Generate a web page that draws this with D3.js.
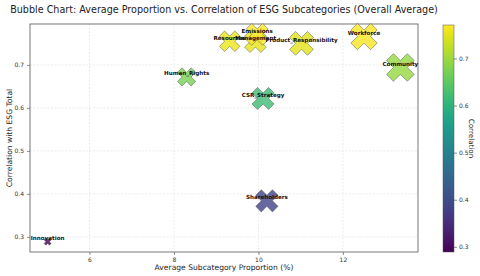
<!DOCTYPE html>
<html>
<head>
<meta charset="utf-8">
<script src="https://cdn.jsdelivr.net/npm/d3@7"></script>
<style>
  body { margin: 0; background: #fff; }
  svg { display: block; font-family: "DejaVu Sans", sans-serif; }
</style>
</head>
<body>
<svg width="480" height="276"></svg>
<script>
// Data
const names = ['Innovation', 'Human_Rights', 'Shareholders', 'CSR_Strategy', 'Resources',
               'Management', 'Emissions', 'Product_Responsibility', 'Workforce', 'Community'];
const proportion = [5.01, 8.30, 10.20, 10.11, 9.32, 9.93, 9.97, 11.02, 12.50, 13.36];
const correlation = [0.289, 0.672, 0.384, 0.622, 0.755, 0.754, 0.771, 0.750, 0.766, 0.694];
const xTicks = [6, 8, 10, 12];
const yTicks = [0.3, 0.4, 0.5, 0.6, 0.7];
const cTicks = [0.3, 0.4, 0.5, 0.6, 0.7];

const svg = d3.select('svg');
const pL = 30, pR = 418, pT = 24, pB = 252;

const data = names.map((n, i) => ({ name: n, x: proportion[i], y: correlation[i] }));

// matplotlib style 5% margins
const pad = (e) => { const d = (e[1] - e[0]) * 0.05; return [e[0] - d, e[1] + d]; };
const xExt = d3.extent(proportion), yExt = d3.extent(correlation);
const x = d3.scaleLinear().domain(pad(xExt)).range([pL, pR]);
const y = d3.scaleLinear().domain(pad(yExt)).range([pB, pT]);
const color = d3.scaleSequential(d3.interpolateViridis).domain(yExt);
const area = d3.scaleLinear().domain(xExt).range([49, 767]);

// title
svg.append('text')
   .attr('x', 224).attr('y', 13)
   .attr('text-anchor', 'middle')
   .attr('font-size', '9.6px')
   .attr('fill', '#222')
   .text('Bubble Chart: Average Proportion vs. Correlation of ESG Subcategories (Overall Average)');

// grid
const grid = svg.append('g');
grid.selectAll('line.gx').data(xTicks).enter().append('line')
   .attr('x1', d => x(d)).attr('x2', d => x(d))
   .attr('y1', pT).attr('y2', pB)
   .attr('stroke', '#ddd').attr('stroke-width', 0.6).attr('stroke-dasharray', '2,1.5');
grid.selectAll('line.gy').data(yTicks).enter().append('line')
   .attr('y1', d => y(d)).attr('y2', d => y(d))
   .attr('x1', pL).attr('x2', pR)
   .attr('stroke', '#ddd').attr('stroke-width', 0.6).attr('stroke-dasharray', '2,1.5');

// axes
const xAxis = svg.append('g')
   .attr('transform', 'translate(0,' + pB + ')')
   .call(d3.axisBottom(x).tickValues(xTicks).tickFormat(d3.format('d')).tickSize(3).tickPadding(3));
const yAxis = svg.append('g')
   .attr('transform', 'translate(' + pL + ',0)')
   .call(d3.axisLeft(y).tickValues(yTicks).tickFormat(d3.format('.1f')).tickSize(3).tickPadding(3));
[xAxis, yAxis].forEach(a => {
  a.select('.domain').remove();
  a.selectAll('.tick line').attr('stroke', '#444').attr('stroke-width', 0.6);
  a.selectAll('.tick text').attr('font-size', '6px').attr('fill', '#333').attr('font-family', 'DejaVu Sans');
});

// frame
svg.append('rect')
   .attr('x', pL).attr('y', pT)
   .attr('width', pR - pL).attr('height', pB - pT)
   .attr('fill', 'none').attr('stroke', '#555').attr('stroke-width', 0.8);

svg.append('text')
   .attr('x', 224).attr('y', 270)
   .attr('text-anchor', 'middle')
   .attr('font-size', '7.6px').attr('fill', '#222')
   .text('Average Subcategory Proportion (%)');
svg.append('text')
   .attr('transform', 'translate(12,' + ((pT + pB) / 2) + ') rotate(-90)')
   .attr('text-anchor', 'middle')
   .attr('font-size', '7.6px').attr('fill', '#222')
   .text('Correlation with ESG Total');

// filled X marker (matplotlib 'X')
const xPts = [[-1,-2],[0,-1],[1,-2],[2,-1],[1,0],[2,1],[1,2],[0,1],[-1,2],[-2,1],[-1,0],[-2,-1]];
function xPath(w) {
  return 'M' + xPts.map(p => [p[0] / 4 * w, p[1] / 4 * w].join(',')).join('L') + 'Z';
}

const marks = svg.append('g');
marks.selectAll('path').data(data).enter().append('path')
   .attr('transform', d => 'translate(' + x(d.x) + ',' + y(d.y) + ')')
   .attr('d', d => xPath(Math.sqrt(area(d.x))))
   .attr('fill', d => color(d.y))
   .attr('fill-opacity', 0.8)
   .attr('stroke', '#555')
   .attr('stroke-width', 0.5);

marks.selectAll('text').data(data).enter().append('text')
   .attr('x', d => x(d.x)).attr('y', d => y(d.y) - 1.5)
   .attr('text-anchor', 'middle')
   .attr('font-size', '5.6px').attr('font-weight', 'bold').attr('fill', '#111')
   .text(d => d.name);

// colorbar
const cbX = 443, cbW = 11;
const cy = d3.scaleLinear().domain(yExt).range([252, 25]);
const defs = svg.append('defs');
const grad = defs.append('linearGradient').attr('id', 'vir')
   .attr('x1', 0).attr('y1', 1).attr('x2', 0).attr('y2', 0);
d3.range(0, 1.0001, 0.05).forEach(t => {
  grad.append('stop').attr('offset', t).attr('stop-color', d3.interpolateViridis(t));
});
svg.append('rect')
   .attr('x', cbX).attr('y', cy(yExt[1]))
   .attr('width', cbW).attr('height', cy(yExt[0]) - cy(yExt[1]))
   .attr('fill', 'url(#vir)').attr('stroke', '#555').attr('stroke-width', 0.5);
const cAxis = svg.append('g')
   .attr('transform', 'translate(' + (cbX + cbW) + ',0)')
   .call(d3.axisRight(cy).tickValues(cTicks).tickFormat(d3.format('.1f')).tickSize(3).tickPadding(2));
cAxis.select('.domain').remove();
cAxis.selectAll('.tick line').attr('stroke', '#444').attr('stroke-width', 0.6);
cAxis.selectAll('.tick text').attr('font-size', '6px').attr('fill', '#333').attr('font-family', 'DejaVu Sans');
svg.append('text')
   .attr('transform', 'translate(469,' + ((cy(yExt[0]) + cy(yExt[1])) / 2) + ') rotate(90)')
   .attr('text-anchor', 'middle')
   .attr('font-size', '7.2px').attr('fill', '#222')
   .text('Correlation');
</script>
</body>
</html>
